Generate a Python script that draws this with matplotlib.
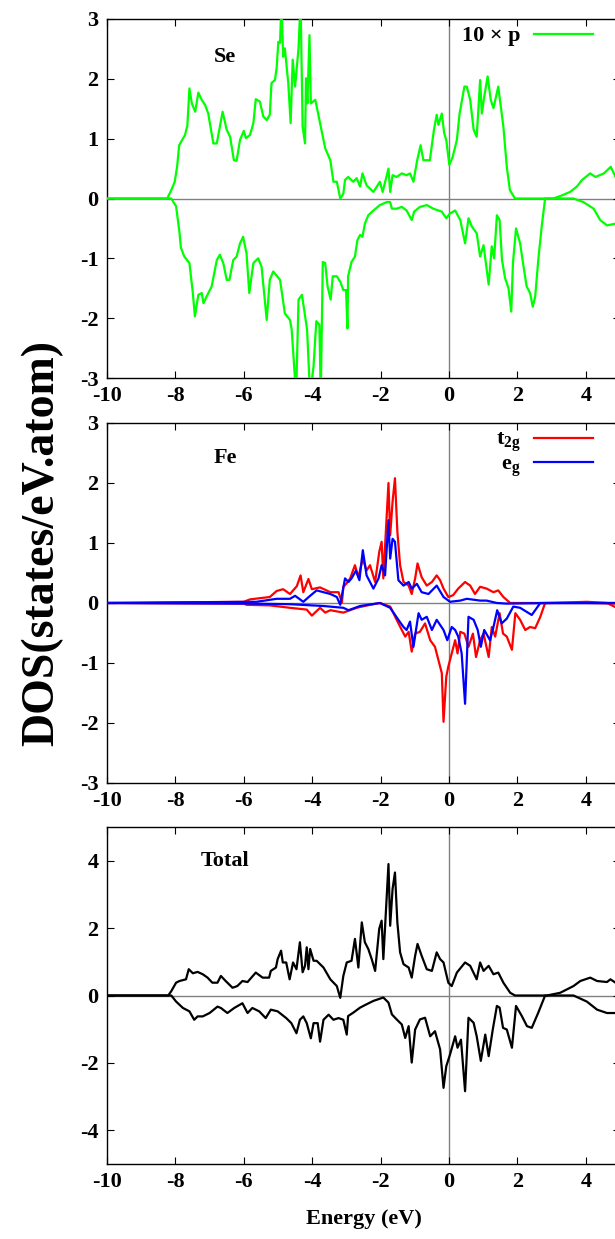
import matplotlib
matplotlib.use("Agg")
import matplotlib.pyplot as plt

plt.rcParams['font.family'] = ['Liberation Serif', 'DejaVu Serif']
plt.rcParams['font.weight'] = 'bold'
plt.rcParams['axes.unicode_minus'] = False
plt.rcParams['mathtext.fontset'] = 'custom'
plt.rcParams['mathtext.rm'] = 'Liberation Serif:bold'
plt.rcParams['mathtext.bf'] = 'Liberation Serif:bold'
plt.rcParams['mathtext.it'] = 'Liberation Serif:bold'

# ---------------- data ----------------
se_up_e = [-10, -8.24, -8.12, -8.02, -7.95, -7.89, -7.72, -7.65, -7.59, -7.52, -7.42, -7.33, -7.23, -7.13, -7.04,
           -6.89, -6.79, -6.62, -6.50, -6.40, -6.29, -6.21, -6.11, -6.0, -5.94, -5.82, -5.72, -5.65, -5.53, -5.43,
           -5.33, -5.24, -5.19, -5.09, -5.04, -4.99, -4.94, -4.90, -4.85, -4.80, -4.70, -4.63, -4.57, -4.50, -4.40,
           -4.34, -4.28, -4.21, -4.18, -4.14, -4.08, -4.04, -3.91, -3.77, -3.62, -3.47, -3.38, -3.28, -3.18, -3.09,
           -3.04, -2.95, -2.80, -2.70, -2.60, -2.53, -2.41, -2.21, -2.02, -1.94, -1.77, -1.72, -1.65, -1.53, -1.38,
           -1.24, -1.14, -1.04, -0.93, -0.83, -0.75, -0.56, -0.44, -0.36, -0.31, -0.21, -0.14, -0.08, 0.01, 0.11,
           0.23, 0.31, 0.45, 0.52, 0.62, 0.72, 0.81, 0.91, 0.96, 1.03, 1.13, 1.22, 1.30, 1.44, 1.59, 1.69, 1.78,
           1.93, 3.05, 3.25, 3.54, 3.74, 3.89, 4.13, 4.28, 4.53, 4.73, 4.87, 5.0]
se_up_dos = [0, 0, 0.14, 0.28, 0.53, 0.89, 1.06, 1.22, 1.84, 1.59, 1.45, 1.77, 1.65, 1.56, 1.42,
             0.92, 0.92, 1.45, 1.15, 1.03, 0.64, 0.63, 0.98, 1.13, 1.01, 1.06, 1.26, 1.66, 1.62, 1.37,
             1.31, 1.40, 1.93, 1.98, 2.18, 2.62, 2.60, 3.3, 2.37, 2.51, 1.93, 1.26, 2.32, 1.87, 2.51,
             3.3, 1.20, 0.92, 2.01, 1.59, 2.73, 1.59, 1.65, 1.26, 0.84, 0.64, 0.28, 0.28, 0.0, 0.08,
             0.31, 0.36, 0.28, 0.34, 0.20, 0.42, 0.22, 0.11, 0.28, 0.11, 0.50, 0.11, 0.39, 0.36, 0.42,
             0.39, 0.42, 0.28, 0.64, 0.89, 0.64, 0.64, 1.15, 1.40, 1.23, 1.42, 1.09, 0.98, 0.56, 0.70,
             0.98, 1.42, 1.87, 1.87, 1.65, 1.15, 1.03, 1.98, 1.42, 1.70, 2.04, 1.65, 1.51, 1.87, 1.20, 0.53, 0.14,
             0.0, 0.0, 0.04, 0.11, 0.20, 0.31, 0.42, 0.36, 0.42, 0.53, 0.36, 0.40]

se_dn_e = [-10, -8.12, -7.98, -7.88, -7.84, -7.74, -7.59, -7.49, -7.43, -7.33, -7.23, -7.18, -7.09, -6.94, -6.79,
           -6.70, -6.60, -6.50, -6.42, -6.31, -6.21, -6.11, -6.02, -5.92, -5.84, -5.72, -5.58, -5.48, -5.33, -5.24,
           -5.14, -4.94, -4.80, -4.65, -4.60, -4.47, -4.40, -4.30, -4.15, -4.06, -3.96, -3.88, -3.79, -3.75, -3.69,
           -3.62, -3.55, -3.46, -3.40, -3.28, -3.18, -3.09, -3.01, -2.97, -2.95, -2.85, -2.75, -2.68, -2.60, -2.53,
           -2.46, -2.36, -2.21, -2.02, -1.82, -1.72, -1.67, -1.53, -1.38, -1.24, -1.09, -1.02, -0.85, -0.65, -0.46,
           -0.21, -0.08, 0.03, 0.18, 0.33, 0.47, 0.57, 0.67, 0.81, 0.91, 1.01, 1.16, 1.25, 1.32, 1.40, 1.48, 1.55,
           1.64, 1.74, 1.82, 1.87, 1.96, 2.08, 2.18, 2.27, 2.37, 2.45, 2.52, 2.61, 2.71, 2.81, 3.64, 3.93, 4.23,
           4.42, 4.62, 4.87, 5.0]
se_dn_dos = [0, 0, -0.13, -0.57, -0.82, -0.97, -1.08, -1.58, -1.97, -1.61, -1.58, -1.75, -1.64, -1.47, -1.03,
             -0.94, -1.08, -1.36, -1.36, -1.03, -0.97, -0.75, -0.64, -0.92, -1.58, -1.08, -1.0, -1.14, -2.03, -1.36,
             -1.22, -1.36, -1.92, -2.03, -2.19, -3.3, -1.69, -1.61, -2.19, -3.3, -2.8, -2.05, -2.11, -3.3, -1.06,
             -1.08, -1.47, -1.69, -1.30, -1.30, -1.39, -1.53, -1.53, -2.17, -1.30, -1.06, -0.97, -0.70, -0.61, -0.64,
             -0.42, -0.28, -0.20, -0.11, -0.06, -0.06, -0.17, -0.17, -0.14, -0.20, -0.36, -0.22, -0.14, -0.11, -0.17,
             -0.22, -0.33, -0.25, -0.20, -0.36, -0.75, -0.33, -0.47, -0.58, -0.97, -0.78, -1.44, -0.80, -1.0, -0.28, -0.36, -1.03,
             -1.33, -1.50, -1.89, -1.08, -0.50, -0.75, -1.14, -1.47, -1.58, -1.81, -1.64, -1.03, -0.47, 0.0, 0.0, -0.06, -0.17,
             -0.36, -0.45, -0.42, -0.42]

t2g_up_e = [-10, -6.0, -5.82, -5.24, -5.04, -4.85, -4.65, -4.45, -4.34, -4.26, -4.11, -4.01, -3.77, -3.47, -3.23,
            -3.13, -3.09, -2.99, -2.89, -2.75, -2.65, -2.52, -2.41, -2.31, -2.16, -2.04, -1.97, -1.92, -1.77, -1.72,
            -1.65, -1.58, -1.51, -1.43, -1.33, -1.18, -1.09, -0.99, -0.92, -0.80, -0.65, -0.50, -0.36, -0.26, -0.16,
            -0.02, 0.12, 0.27, 0.47, 0.62, 0.76, 0.91, 1.10, 1.30, 1.44, 1.59, 1.79, 3.0, 4.03, 4.62, 4.87, 5.0]
t2g_up_dos = [0, 0.02, 0.06, 0.10, 0.20, 0.23, 0.15, 0.28, 0.46, 0.18, 0.40, 0.23, 0.26, 0.18, 0.18,
              0.01, 0.27, 0.33, 0.41, 0.63, 0.43, 0.74, 0.54, 0.63, 0.35, 0.85, 1.02, 0.41, 2.0, 1.13,
              1.69, 2.08, 1.19, 0.63, 0.35, 0.29, 0.15, 0.41, 0.66, 0.43, 0.29, 0.35, 0.46, 0.38, 0.24,
              0.10, 0.13, 0.24, 0.35, 0.29, 0.15, 0.27, 0.24, 0.18, 0.21, 0.10, 0.0, 0.0, 0.02, 0.0, -0.07, -0.07]

t2g_dn_e = [-10, -6.0, -5.92, -5.24, -4.65, -4.16, -4.01, -3.77, -3.62, -3.47, -3.09, -2.99, -2.70, -2.31, -2.02,
            -1.72, -1.53, -1.38, -1.28, -1.18, -1.09, -0.99, -0.85, -0.70, -0.55, -0.41, -0.31, -0.21, -0.16, -0.08,
            -0.02, 0.08, 0.18, 0.25, 0.33, 0.45, 0.57, 0.70, 0.79, 0.91, 1.01, 1.16, 1.25, 1.35, 1.48, 1.58, 1.69,
            1.84, 1.94, 2.08, 2.23, 2.37, 2.52, 2.67, 2.81, 4.0, 5.0]
t2g_dn_dos = [0, -0.01, -0.03, -0.04, -0.08, -0.11, -0.21, -0.08, -0.16, -0.12, -0.16, -0.14, -0.08, -0.03, 0.0,
              -0.06, -0.28, -0.45, -0.56, -0.48, -0.81, -0.51, -0.48, -0.34, -0.62, -0.73, -0.95, -1.17, -1.98, -1.23,
              -1.06, -0.84, -0.62, -0.84, -0.48, -0.51, -0.73, -0.51, -0.90, -0.62, -0.51, -0.90, -0.40, -0.56, -0.17, -0.51, -0.56,
              -0.78, -0.17, -0.28, -0.45, -0.40, -0.42, -0.23, 0.0, 0.0, -0.01]

eg_up_e = [-10, -5.63, -5.04, -4.65, -4.50, -4.26, -4.06, -3.87, -3.47, -3.28, -3.18, -3.04, -2.94, -2.85, -2.72,
           -2.62, -2.52, -2.41, -2.21, -2.06, -1.97, -1.87, -1.77, -1.72, -1.65, -1.58, -1.48, -1.33, -1.18, -1.09,
           -0.94, -0.80, -0.60, -0.36, -0.16, 0.03, 0.33, 0.52, 0.91, 1.10, 1.40, 1.69, 3.0, 5.0]
eg_up_dos = [0, 0.02, 0.07, 0.07, 0.12, 0.02, 0.12, 0.21, 0.15, 0.10, -0.03, 0.41, 0.35, 0.41, 0.54,
             0.38, 0.88, 0.46, 0.24, 0.41, 0.63, 0.46, 1.38, 0.74, 1.07, 1.02, 0.38, 0.29, 0.35, 0.24,
             0.32, 0.18, 0.15, 0.29, 0.10, 0.02, 0.04, 0.07, 0.04, 0.04, 0.0, -0.01, 0.0, 0.0]

eg_dn_e = [-10, -5.92, -4.65, -3.67, -3.09, -2.94, -2.60, -2.02, -1.72, -1.48, -1.33, -1.24, -1.14, -1.04, -0.89,
           -0.80, -0.65, -0.50, -0.36, -0.16, -0.05, 0.08, 0.18, 0.27, 0.37, 0.47, 0.57, 0.72, 0.84, 0.93, 1.03,
           1.20, 1.30, 1.41, 1.54, 1.69, 1.88, 2.08, 2.42, 2.67, 5.0]
eg_dn_dos = [0, -0.01, -0.02, -0.05, -0.08, -0.12, -0.05, 0.0, -0.08, -0.28, -0.40, -0.45, -0.31, -0.73, -0.17,
             -0.28, -0.23, -0.45, -0.28, -0.45, -0.62, -0.40, -0.45, -0.56, -0.84, -1.68, -0.23, -0.28, -0.45, -0.73, -0.45,
             -0.62, -0.40, -0.12, -0.34, -0.26, -0.06, -0.08, -0.20, 0.0, 0.0]

tot_up_e = [-10, -8.21, -8.12, -7.98, -7.88, -7.69, -7.61, -7.49, -7.35, -7.20, -7.06, -6.92, -6.77, -6.67, -6.53,
            -6.33, -6.19, -6.04, -5.89, -5.65, -5.45, -5.26, -5.21, -5.06, -5.01, -4.91, -4.86, -4.76, -4.66, -4.56,
            -4.46, -4.36, -4.28, -4.21, -4.16, -4.11, -4.06, -3.96, -3.87, -3.67, -3.47, -3.28, -3.18, -3.09,
            -2.99, -2.85, -2.75, -2.65, -2.55, -2.46, -2.36, -2.26, -2.16, -2.04, -1.97, -1.92, -1.77, -1.72,
            -1.65, -1.58, -1.51, -1.43, -1.33, -1.18, -1.09, -0.99, -0.92, -0.80, -0.65, -0.50, -0.36, -0.26,
            -0.16, -0.02, 0.08, 0.23, 0.47, 0.62, 0.81, 0.91, 1.01, 1.16, 1.30, 1.44, 1.59, 1.79, 1.93, 2.86,
            3.25, 3.64, 3.84, 4.13, 4.33, 4.62, 4.72, 4.87, 5.0]
tot_up_dos = [0, 0, 0.13, 0.38, 0.43, 0.48, 0.78, 0.66, 0.70, 0.63, 0.53, 0.38, 0.38, 0.58, 0.43,
              0.23, 0.28, 0.43, 0.40, 0.68, 0.53, 0.53, 0.73, 0.83, 1.08, 1.33, 0.98, 0.98, 0.48, 0.98,
              0.78, 1.58, 0.69, 0.88, 1.43, 0.78, 1.38, 1.03, 1.03, 0.83, 0.48, 0.28, -0.07, 0.58,
              0.98, 1.03, 1.68, 0.83, 2.17, 1.58, 1.38, 1.08, 0.73, 1.98, 2.22, 1.08, 3.90, 2.07,
              3.16, 3.65, 2.17, 1.28, 0.93, 0.83, 0.53, 1.18, 1.53, 1.18, 0.78, 0.73, 1.28, 1.08,
              0.98, 0.38, 0.28, 0.68, 0.98, 0.88, 0.48, 0.98, 0.73, 0.88, 0.63, 0.68, 0.38, 0.08, 0.0, 0.0,
              0.08, 0.28, 0.43, 0.53, 0.43, 0.40, 0.48, 0.38, 0.40]

tot_dn_e = [-10, -8.12, -7.98, -7.78, -7.59, -7.45, -7.35, -7.20, -7.00, -6.77, -6.67, -6.48, -6.28, -6.04, -5.89,
            -5.75, -5.55, -5.36, -5.21, -5.01, -4.76, -4.61, -4.46, -4.36, -4.26, -4.16, -4.04, -3.96, -3.84, -3.77,
            -3.67, -3.52, -3.38, -3.23, -3.09, -2.99, -2.95, -2.80, -2.60, -2.41, -2.21, -1.92, -1.77, -1.67, -1.53,
            -1.38, -1.28, -1.18, -1.09, -0.99, -0.85, -0.70, -0.55, -0.41, -0.26, -0.16, -0.08, 0.03, 0.18, 0.25,
            0.35, 0.47, 0.57, 0.72, 0.81, 0.93, 1.06, 1.16, 1.28, 1.40, 1.48, 1.58, 1.69, 1.84, 1.96, 2.13, 2.28,
            2.42, 2.61, 2.81, 3.64, 4.03, 4.33, 4.62, 4.87, 5.0]
tot_dn_dos = [0, 0, -0.18, -0.37, -0.47, -0.72, -0.62, -0.62, -0.52, -0.33, -0.37, -0.52, -0.37, -0.23, -0.52,
              -0.37, -0.47, -0.67, -0.42, -0.47, -0.67, -0.82, -1.12, -0.72, -0.62, -0.82, -1.27, -0.82, -0.82, -1.37,
              -0.72, -0.57, -0.72, -0.67, -0.72, -1.16, -0.61, -0.51, -0.36, -0.26, -0.16, -0.06, -0.21, -0.56, -0.71,
              -0.86, -1.26, -0.91, -1.99, -1.01, -0.71, -0.66, -1.21, -1.06, -1.60, -2.74, -2.10, -1.75, -1.21, -1.55,
              -1.31, -2.84, -0.66, -0.81, -1.21, -1.94, -1.16, -1.80, -1.01, -0.31, -0.36, -0.96, -1.01, -1.55, -0.31, -0.61, -0.91,
              -0.96, -0.51, 0.0, 0.0, -0.18, -0.42, -0.52, -0.52, -0.52]

x_ticks = [-10, -8, -6, -4, -2, 0, 2, 4]
y_ticks_se = [-3, -2, -1, 0, 1, 2, 3]
y_ticks_fe = [-3, -2, -1, 0, 1, 2, 3]
y_ticks_tot = [-4, -2, 0, 2, 4]
panel_labels = ["Se", "Fe", "Total"]

# ---------------- figure ----------------
W, H = 615, 1239
fig = plt.figure(figsize=(W / 100, H / 100), dpi=100)

left = 107 / W
width = (620 - 107) / W

def axes_px(top, bottom):
    return fig.add_axes([left, 1 - bottom / H, width, (bottom - top) / H])

ax1 = axes_px(19, 378)
ax2 = axes_px(423, 783)
ax3 = axes_px(827, 1164)

FS = 16
lw = 1.6

def style(ax, ylim, yticks):
    ax.set_xlim(-10, 5)
    ax.set_ylim(*ylim)
    ax.set_xticks(x_ticks)
    ax.set_yticks(yticks)
    ax.tick_params(direction='in', length=5, width=0.8, top=True, right=True,
                   labelsize=FS, pad=6)
    for lab in ax.get_xticklabels() + ax.get_yticklabels():
        lab.set_fontweight('bold')
    for sp in ax.spines.values():
        sp.set_linewidth(1.0)
    ax.axhline(0, color='#808080', lw=1.0, zorder=1)
    ax.axvline(0, color='#808080', lw=1.0, zorder=1)

style(ax1, (-3, 3), y_ticks_se)
style(ax2, (-3, 3), y_ticks_fe)
style(ax3, (-5, 5), y_ticks_tot)

leg_kw = dict(loc='upper right', bbox_to_anchor=(0.947, 0.981), frameon=False, fontsize=FS,
              handlelength=2.65, markerfirst=False, borderaxespad=0.0, borderpad=0.0,
              handletextpad=0.6)

# Se
ax1.plot(se_up_e, se_up_dos, color='#00ff00', lw=lw, label='10 × p', zorder=3)
ax1.plot(se_dn_e, se_dn_dos, color='#00ff00', lw=lw, zorder=3)
ax1.text(-6.55, 2.37, panel_labels[0], fontsize=FS, fontweight='bold', ha='center', va='center')
ax1.legend(**leg_kw)

# Fe
ax2.plot(t2g_up_e, t2g_up_dos, color='#ff0000', lw=lw, label=r'$\mathbf{t_{2g}}$', zorder=3)
ax2.plot(t2g_dn_e, t2g_dn_dos, color='#ff0000', lw=lw, zorder=3)
ax2.plot(eg_up_e, eg_up_dos, color='#0000ff', lw=lw, label=r'$\mathbf{e_{g}}$', zorder=4)
ax2.plot(eg_dn_e, eg_dn_dos, color='#0000ff', lw=lw, zorder=4)
ax2.text(-6.55, 2.42, panel_labels[1], fontsize=FS, fontweight='bold', ha='center', va='center')
ax2.legend(labelspacing=0.0, **leg_kw)

# Total
ax3.plot(tot_up_e, tot_up_dos, color='black', lw=lw, zorder=3)
ax3.plot(tot_dn_e, tot_dn_dos, color='black', lw=lw, zorder=3)
ax3.text(-6.55, 3.98, panel_labels[2], fontsize=FS, fontweight='bold', ha='center', va='center')
ax3.set_xlabel('Energy (eV)', fontsize=FS, fontweight='bold', labelpad=12)

fig.text(42 / W, 1 - 543 / H, 'DOS(states/eV.atom)', rotation=90, fontsize=33,
         fontweight='bold', ha='center', va='center')

fig.savefig('out.png', dpi=100)
